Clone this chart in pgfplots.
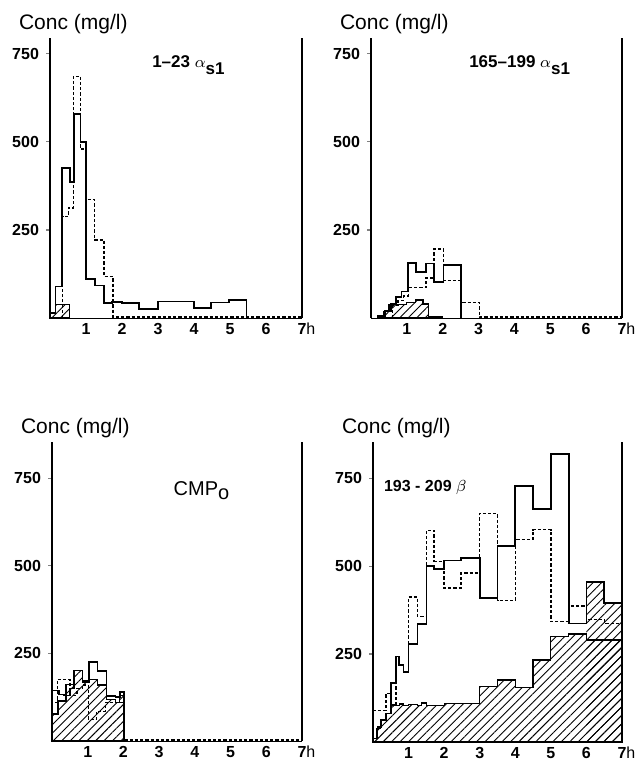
\documentclass[border=0pt]{standalone}
\usepackage{pgfplots}
\pgfplotsset{compat=1.18}
\usepackage{fontspec}
\setmainfont{Liberation Sans}
\usetikzlibrary{patterns.meta}

\pgfplotsset{
  panel/.style={
    scale only axis, anchor=south west,
    xmin=0, xmax=7, ymin=0,
    axis x line*=bottom, axis y line*=left,
    xtick={1,...,7}, xticklabels={1,2,3,4,5,6,7\rlap{\mdseries h}},
    ytick={250,500,750},
    /pgf/number format/assume math mode=true,
    tick label style={font=\bfseries\footnotesize},
    x tick label style={inner sep=1pt, yshift=0.5pt},
    xtick style={draw=none},
    ytick style={line width=0.6pt},
    major tick length=2pt, tick align=outside,
    y axis line style={line width=0.9pt},
    x axis line style={line width=0.4pt},
    clip=false,
  },
  solid step/.style={const plot, black, line width=0.85pt},
  dashed step/.style={const plot, black, line width=0.7pt, dash pattern=on 1.6pt off 1pt},
  hatched/.style={const plot, black, line width=0.6pt,
    pattern={Lines[angle=45,distance=3pt,line width=0.45pt]}},
}
\newcommand{\conc}{\node[anchor=base west, font=\fontsize{10.5}{12}\selectfont, xshift=-19pt, yshift=4pt] at (rel axis cs:0,1) {Conc (mg/l)};}
\newcommand{\frameright}{\draw[line width=0.9pt] (rel axis cs:1,0) -- (rel axis cs:1,1);}

\begin{document}
\begin{tikzpicture}
\useasboundingbox (0,0) rectangle (318.5pt,380pt);

% 1-23 alpha s1
\begin{axis}[panel, at={(25pt,221pt)}, width=126pt, height=140pt, ymax=795]
\addplot[hatched] coordinates {(0,0)(0,15)(0.15,38)(0.55,0)} \closedcycle;
\addplot[dashed step] coordinates {(0.35,0)(0.35,289)(0.51,312)(0.65,686)(0.85,480)(1.0,336)(1.23,222)(1.5,118)(1.75,3)(7,3)};
\addplot[solid step] coordinates {(0,0)(0,14)(0.15,89)(0.33,425)(0.55,387)(0.67,580)(0.85,500)(1.0,110)(1.25,92)(1.5,42)(1.73,46)(2.0,42)(2.47,26)(3.0,47)(4.0,28)(4.47,44)(4.97,52)(5.46,0)};
\node[font=\bfseries\fontsize{8.5}{10}\selectfont] at (axis cs:3.86,718) {1--23 $\alpha_{\textbf{s1}}$};
\conc
\frameright
\end{axis}

% 165-199 alpha s1
\begin{axis}[panel, at={(185.5pt,221pt)}, width=125.5pt, height=140pt, ymax=795]
\addplot[hatched] coordinates {(0.2,0)(0.2,5)(0.35,18)(0.5,38)(1.0,44)(1.25,51)(1.45,40)(1.6,5)(2.0,0)} \closedcycle;
\addplot[dashed step] coordinates {(0.6,0)(0.6,35)(0.75,50)(0.9,62)(1.04,86)(1.53,114)(1.76,196)(2.02,106)(2.51,44)(3.02,3)(7,3)};
\addplot[solid step] coordinates {(0.2,0)(0.2,5)(0.4,20)(0.55,40)(0.7,60)(0.85,75)(1.04,156)(1.25,131)(1.53,155)(1.76,102)(2.02,150)(2.51,0)};
\node[font=\bfseries\fontsize{8.5}{10}\selectfont] at (axis cs:4.16,718) {165--199 $\alpha_{\textbf{s1}}$};
\conc
\frameright
\end{axis}

% CMPo
\begin{axis}[panel, at={(26pt,9.5pt)}, width=125pt, height=149.5pt, ymax=853]
\addplot[hatched] coordinates {(0,0)(0,77)(0.17,114)(0.39,162)(0.62,200)(0.85,166)(1.05,176)(1.28,160)(1.53,118)(1.78,110)(1.9,130)(2.02,0)} \closedcycle;
\addplot[dashed step] coordinates {(0,0)(0,110)(0.15,176)(0.5,130)(0.7,150)(0.85,160)(1.02,62)(1.25,85)(1.5,110)(2.02,3)(7,3)};
\addplot[solid step] coordinates {(0,0)(0,144)(0.19,133)(0.34,130)(0.5,150)(0.62,201)(0.85,171)(1.04,226)(1.27,199)(1.53,128)(1.78,125)(1.9,140)(2.02,0)};
\node[font=\fontsize{10}{12}\selectfont] at (axis cs:4.2,715) {CMP$_{\textrm{o}}$};
\conc
\frameright
\end{axis}

% 193-209 beta
\begin{axis}[panel, at={(186.5pt,9pt)}, width=124.5pt, height=150pt, ymax=853]
\addplot[const plot, draw=none, pattern={Lines[angle=45,distance=3pt,line width=0.45pt]}] coordinates {(6,0)(6,454)(6.5,395)(7,0)} \closedcycle;
\addplot[hatched] coordinates {(0,0)(0,10)(0.1,38)(0.22,60)(0.36,80)(0.5,105)(0.65,103)(0.75,108)(0.86,103)(1.0,107)(1.25,103)(1.37,111)(1.5,103)(2.0,110)(3.0,157)(3.5,176)(4.0,155)(4.5,233)(5.0,300)(5.5,307)(6.0,290)(7,0)} \closedcycle;
\addplot[dashed step] coordinates {(0,0)(0,90)(0.36,138)(0.5,105)(0.65,243)(0.74,219)(0.86,200)(1.0,412)(1.25,357)(1.5,602)(1.72,514)(2.0,438)(2.47,481)(3.0,650)(3.5,402)(4.0,576)(4.5,604)(5.0,343)(5.5,387)(6.0,348)(6.5,337)(7,0)};
\addplot[solid step] coordinates {(0,0)(0,10)(0.13,43)(0.22,62)(0.36,81)(0.5,167)(0.65,243)(0.74,219)(0.86,200)(1.0,279)(1.25,335)(1.5,500)(1.72,492)(2.0,516)(2.47,523)(3.0,409)(3.5,557)(4.0,728)(4.5,663)(5.0,818)(5.5,337)(6.0,454)(6.5,395)(7,0)};
\node[font=\bfseries\fontsize{8}{10}\selectfont] at (axis cs:1.47,724) {193 - 209 $\beta$};
\conc
\frameright
\end{axis}
\end{tikzpicture}
\end{document}
